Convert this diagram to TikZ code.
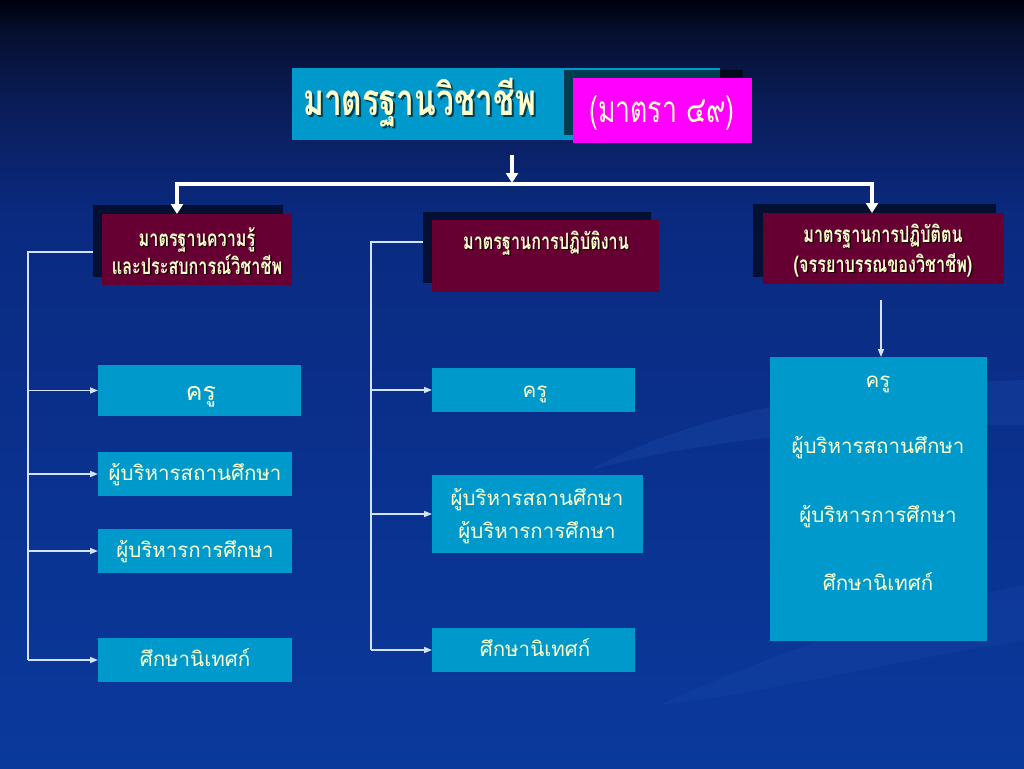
\documentclass[tikz,border=0pt]{standalone}
\usepackage{fontspec}
\usetikzlibrary{arrows.meta,calc}
\newfontfamily\thai[Script=Thai]{Loma}
\newfontfamily\thaicond[Script=Thai,FakeStretch=0.72]{Loma}
\definecolor{cyanbox}{HTML}{0099CC}
\definecolor{maroonbox}{HTML}{660033}
\definecolor{pinkbox}{HTML}{FF00FF}
\definecolor{cream}{HTML}{FFFFCC}
\definecolor{connline}{HTML}{D4E2FF}
\definecolor{bgA}{HTML}{00000C}
\definecolor{bgB}{HTML}{060F2E}
\definecolor{bgC}{HTML}{0A1C56}
\definecolor{bgD}{HTML}{0A2A80}
\definecolor{bgE}{HTML}{0A3290}
\definecolor{bgF}{HTML}{0A399C}
\definecolor{swooshc}{HTML}{3A6AD0}
\pgfdeclareverticalshading{slidebg}{100bp}{color(0bp)=(bgF); color(25bp)=(bgF); color(42bp)=(bgE); color(61bp)=(bgD); color(68.5bp)=(bgC); color(73bp)=(bgB); color(75bp)=(bgA); color(100bp)=(bgA)}
\begin{document}
\begin{tikzpicture}[x=1pt,y=-1pt,
  cbox/.style={fill=cyanbox,inner sep=0pt,outer sep=0pt},
  mbox/.style={fill=maroonbox,inner sep=0pt,outer sep=0pt},
  sbox/.style={fill=black,fill opacity=0.6,inner sep=0pt,outer sep=0pt},
  htext/.style={font=\thaicond\bfseries\fontsize{22.5}{26}\selectfont,text=cream,anchor=base,inner sep=0pt},
  hshadow/.style={font=\thaicond\bfseries\fontsize{22.5}{26}\selectfont,text=black,text opacity=0.7,anchor=base,inner sep=0pt},
  btext/.style={font=\thai\fontsize{20.5}{24}\selectfont,text=cream,anchor=base,inner sep=0pt},
  conn/.style={draw=connline,line width=1.5pt},
  connarrow/.style={conn,-{Triangle[width=6pt,length=8pt]}},
  bar/.style={draw=white,line width=4pt},
  bararrow/.style={draw=white,line width=4pt,-{Triangle[width=12pt,length=10pt]}}]
\useasboundingbox (0,0) rectangle (1024,768);
\shade[shading=slidebg] (0,0) rectangle (1024,768);
% faint background swooshes
\fill[swooshc,opacity=0.14] (590,470) .. controls (700,410) and (850,385) .. (1024,380) -- (1024,425) .. controls (850,425) and (700,440) .. (590,470) -- cycle;
\fill[swooshc,opacity=0.10] (660,705) .. controls (780,650) and (900,610) .. (1024,585) -- (1024,640) .. controls (900,660) and (780,690) .. (660,705) -- cycle;

% title
\node[cbox,minimum width=428,minimum height=72] (title) at (506,104) {};
\node[anchor=base west,inner sep=0pt,font=\thaicond\bfseries\fontsize{44}{50}\selectfont,text=black,text opacity=0.6] (titleSh) at (305,117) {มาตรฐานวิชาชีพ};
\node[anchor=base west,inner sep=0pt,font=\thaicond\bfseries\fontsize{44}{50}\selectfont,text=cream] (titleT) at (303,115) {มาตรฐานวิชาชีพ};
\node[sbox,minimum width=179,minimum height=65] (pinkSh) at (653.5,102.5) {};
\node[fill=pinkbox,inner sep=0pt,minimum width=179,minimum height=65] (pink) at (662.5,110.5) {};
\node[anchor=base,inner sep=0pt,font=\thaicond\fontsize{37}{40}\selectfont,text=cream] (pinkT) at (662,122) {(มาตรา ๔๙)};

% header boxes
\node[sbox,minimum width=190,minimum height=72] (hLs) at (188,241) {};
\node[mbox,minimum width=190,minimum height=71] (hL) at (197,249.5) {};
\node[sbox,minimum width=228,minimum height=71] (hMs) at (537,247.5) {};
\node[mbox,minimum width=227,minimum height=72] (hM) at (545.5,256) {};
\node[sbox,minimum width=243,minimum height=73] (hRs) at (874.5,240.5) {};
\node[mbox,minimum width=241,minimum height=71] (hR) at (883.5,248.5) {};

\node[hshadow] (hL1s) at (198.5,247.5) {มาตรฐานความรู้};
\node[htext] (hL1) at (197,246) {มาตรฐานความรู้};
\node[hshadow] (hL2s) at (198.5,275.5) {และประสบการณ์วิชาชีพ};
\node[htext] (hL2) at (197,274) {และประสบการณ์วิชาชีพ};
\node[hshadow] (hM1s) at (547.5,250.5) {มาตรฐานการปฏิบัติงาน};
\node[htext] (hM1) at (546,249) {มาตรฐานการปฏิบัติงาน};
\node[hshadow] (hR1s) at (884.5,243.5) {มาตรฐานการปฏิบัติตน};
\node[htext] (hR1) at (883,242) {มาตรฐานการปฏิบัติตน};
\node[hshadow] (hR2s) at (884.5,273.5) {(จรรยาบรรณของวิชาชีพ)};
\node[htext] (hR2) at (883,272) {(จรรยาบรรณของวิชาชีพ)};

% left column boxes
\node[cbox,minimum width=203,minimum height=51] (kL1) at (199.5,390.5) {};
\node[cbox,minimum width=194,minimum height=44] (kL2) at (195,474) {};
\node[cbox,minimum width=194,minimum height=44] (kL3) at (195,551) {};
\node[cbox,minimum width=194,minimum height=44] (kL4) at (195,660) {};
\node[btext,font=\thai\fontsize{25}{28}\selectfont] (tL1) at (201,400) {ครู};
\node[btext] (tL2) at (195,480) {ผู้บริหารสถานศึกษา};
\node[btext] (tL3) at (195,557) {ผู้บริหารการศึกษา};
\node[btext] (tL4) at (195,666) {ศึกษานิเทศก์};

% middle column boxes
\node[cbox,minimum width=203,minimum height=44] (kM1) at (533.5,390) {};
\node[cbox,minimum width=211,minimum height=78] (kM2) at (537.5,514) {};
\node[cbox,minimum width=203,minimum height=44] (kM3) at (533.5,650) {};
\node[btext] (tM1) at (535,397) {ครู};
\node[btext] (tM2a) at (537,505) {ผู้บริหารสถานศึกษา};
\node[btext] (tM2b) at (537,538) {ผู้บริหารการศึกษา};
\node[btext] (tM3) at (535,656) {ศึกษานิเทศก์};

% right column box
\node[cbox,minimum width=217,minimum height=284] (kR) at (878.5,499) {};
\node[btext] (tR1) at (878,387) {ครู};
\node[btext] (tR2) at (878,453) {ผู้บริหารสถานศึกษา};
\node[btext] (tR3) at (878,522) {ผู้บริหารการศึกษา};
\node[btext] (tR4) at (878,590) {ศึกษานิเทศก์};

% top connectors
\coordinate (T0) at (512,155);
\coordinate (B0) at (512,184);
\coordinate (B1) at (177,184);
\coordinate (B2) at (872,184);
\draw[bararrow] (T0) -- ([yshift=1pt]B0);
\draw[bar,line cap=rect] (B1) -- (B2);
\draw[bararrow] (B1) -- (B1 |- hL.north);
\draw[bararrow] (B2) -- (B2 |- hR.north);

% left tree
\coordinate (L0) at (28,252);
\draw[conn] (hLs.west |- L0) -- (L0) -- (L0 |- kL4.west);
\draw[connarrow] (L0 |- kL1.west) -- (kL1.west);
\draw[connarrow] (L0 |- kL2.west) -- (kL2.west);
\draw[connarrow] (L0 |- kL3.west) -- (kL3.west);
\draw[connarrow] (L0 |- kL4.west) -- (kL4.west);

% middle tree
\coordinate (M0) at (371,242);
\draw[conn] (hMs.west |- M0) -- (M0) -- (M0 |- kM3.west);
\draw[connarrow] (M0 |- kM1.west) -- (kM1.west);
\draw[connarrow] (M0 |- kM2.west) -- (kM2.west);
\draw[connarrow] (M0 |- kM3.west) -- (kM3.west);

% right arrow
\coordinate (R0) at (881,300);
\draw[connarrow] (R0) -- (R0 |- kR.north);
\end{tikzpicture}
\end{document}
